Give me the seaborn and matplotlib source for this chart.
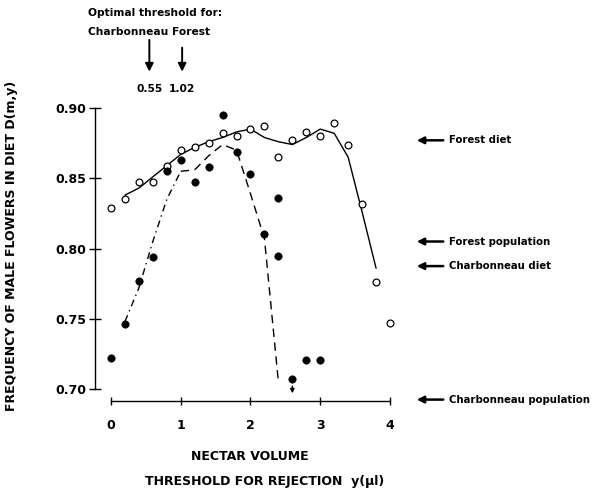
import matplotlib
matplotlib.use("Agg")
import matplotlib.pyplot as plt
import seaborn as sns

# --- values ---
# Forest (open circles)
forest_x = [0.0, 0.2, 0.4, 0.6, 0.8, 1.0, 1.2, 1.4, 1.6, 1.8, 2.0,
            2.2, 2.4, 2.6, 2.8, 3.0, 3.2, 3.4, 3.6, 3.8, 4.0]
forest_y = [0.829, 0.835, 0.847, 0.847, 0.859, 0.870, 0.872, 0.875, 0.882, 0.880, 0.885,
            0.887, 0.865, 0.877, 0.883, 0.880, 0.889, 0.874, 0.832, 0.776, 0.747]
# Forest smoothed curve (solid)
forest_line_x = [0.2, 0.4, 0.6, 0.8, 1.0, 1.2, 1.4, 1.6, 1.8, 2.0,
                 2.2, 2.4, 2.6, 2.8, 3.0, 3.2, 3.4, 3.6, 3.8]
forest_line_y = [0.838, 0.843, 0.851, 0.859, 0.867, 0.872, 0.876, 0.879, 0.883, 0.885,
                 0.879, 0.876, 0.874, 0.879, 0.885, 0.882, 0.865, 0.826, 0.786]

# Charbonneau (filled circles)
charb_x = [0.0, 0.2, 0.4, 0.6, 0.8, 1.0, 1.2, 1.4, 1.6, 1.8, 2.0,
           2.2, 2.4, 2.4, 2.6, 2.8, 3.0]
charb_y = [0.722, 0.746, 0.777, 0.794, 0.855, 0.863, 0.847, 0.858, 0.895, 0.869, 0.853,
           0.810, 0.836, 0.795, 0.707, 0.721, 0.721]
# Charbonneau smoothed curve: dash-dot part, then dashed part
charb_dashdot_x = [0.2, 0.4, 0.6, 0.8, 1.0]
charb_dashdot_y = [0.748, 0.772, 0.805, 0.835, 0.855]
charb_dash_x = [1.0, 1.2, 1.4, 1.6, 1.8, 2.0, 2.2, 2.4]
charb_dash_y = [0.855, 0.856, 0.866, 0.874, 0.870, 0.839, 0.807, 0.705]

# optimal thresholds marked above the plot
opt_x = [0.55, 1.02]
opt_labels = ["0.55", "1.02"]

# reference levels on the right
ref_labels = ["Forest diet", "Forest population", "Charbonneau diet", "Charbonneau population"]
ref_levels = [0.877, 0.805, 0.7875, 0.6925]

y_ticks = [0.70, 0.75, 0.80, 0.85, 0.90]
x_ticks = [0, 1, 2, 3, 4]

# --- plot ---
sns.set_style("ticks")
plt.rcParams['font.family'] = ['DejaVu Sans']
plt.rcParams.update({'text.color': 'black', 'axes.labelcolor': 'black',
                     'xtick.color': 'black', 'ytick.color': 'black',
                     'axes.edgecolor': 'black'})

fig = plt.figure(figsize=(5.97, 4.93), dpi=100)
ax = fig.add_axes([95 / 597, 1 - 401 / 493, 302 / 597, 301 / 493])

sns.lineplot(x=forest_line_x, y=forest_line_y, ax=ax, color='black', lw=1.0,
             sort=False, estimator=None)
sns.lineplot(x=charb_dashdot_x, y=charb_dashdot_y, ax=ax, color='black', lw=1.0,
             sort=False, estimator=None, ls=(0, (5, 3, 1, 3)))
sns.lineplot(x=charb_dash_x, y=charb_dash_y, ax=ax, color='black', lw=1.0,
             sort=False, estimator=None, ls=(0, (6, 4)))

sns.scatterplot(x=forest_x, y=forest_y, ax=ax, marker='o', s=24,
                facecolor='white', edgecolor='black', linewidth=0.9, zorder=3)
sns.scatterplot(x=charb_x, y=charb_y, ax=ax, marker='o', s=28,
                color='black', edgecolor='black', linewidth=0.5, zorder=3)

ax.set_xlim(-0.229, 4.1)
ax.set_ylim(0.6915, 0.9057)
ax.spines['top'].set_visible(False)
ax.spines['right'].set_visible(False)
ax.spines['left'].set_bounds(0.70, 0.90)
ax.spines['bottom'].set_bounds(0, 4)
ax.spines['left'].set_linewidth(1.0)
ax.spines['bottom'].set_linewidth(1.0)

ax.set_xticks(x_ticks)
ax.set_xticklabels([str(t) for t in x_ticks], fontsize=9, fontweight='bold')
ax.set_yticks(y_ticks)
ax.set_yticklabels([f"{t:.2f}" for t in y_ticks], fontsize=9, fontweight='bold')
ax.tick_params(axis='y', direction='inout', length=9, width=1.0, pad=2)
ax.tick_params(axis='x', direction='inout', length=6, width=1.0, pad=10)
ax.set_xlabel("")
ax.set_ylabel("")

# down arrow under the off-scale Charbonneau point
ax.annotate("", xy=(2.6, 0.695), xytext=(2.6, 0.704), annotation_clip=False,
            arrowprops=dict(arrowstyle='-|>', color='black', lw=1.0, mutation_scale=6))

# optimal-threshold arrows above the plot
small = 7.7
trans = ax.get_xaxis_transform()
ax.text(-0.33, 1.289, "Optimal threshold for:", transform=trans, fontsize=small,
        fontweight='bold', ha='left', va='center')
ax.text(-0.33, 1.226, "Charbonneau Forest", transform=trans, fontsize=small,
        fontweight='bold', ha='left', va='center')
for xv, top, lab in zip(opt_x, [1.209, 1.183], opt_labels):
    ax.annotate("", xy=(xv, 1.085), xycoords=trans, xytext=(xv, top), textcoords=trans,
                annotation_clip=False,
                arrowprops=dict(arrowstyle='-|>', color='black', lw=1.4, mutation_scale=12))
    ax.text(xv, 1.035, lab, transform=trans, fontsize=small, fontweight='bold',
            ha='center', va='center')

# reference-level arrows on the right
for lab, lev in zip(ref_labels, ref_levels):
    ax.annotate("", xy=(4.344, lev), xytext=(4.803, lev), annotation_clip=False,
                arrowprops=dict(arrowstyle='-|>', color='black', lw=1.8, mutation_scale=10))
    ax.text(4.84, lev, lab, fontsize=7.3, fontweight='bold', ha='left', va='center',
            clip_on=False)

fig.text(12 / 597, 1 - 246 / 493, "FREQUENCY OF MALE FLOWERS IN DIET D(m,y)",
         rotation=90, ha='center', va='center', fontsize=9, fontweight='bold')
fig.text(250 / 597, 1 - 457 / 493, "NECTAR VOLUME", ha='center', va='center',
         fontsize=9, fontweight='bold')
fig.text(265 / 597, 1 - 482 / 493, "THRESHOLD FOR REJECTION  y(\u00b5l)", ha='center',
         va='center', fontsize=9, fontweight='bold')

fig.savefig("out.png", dpi=100)
